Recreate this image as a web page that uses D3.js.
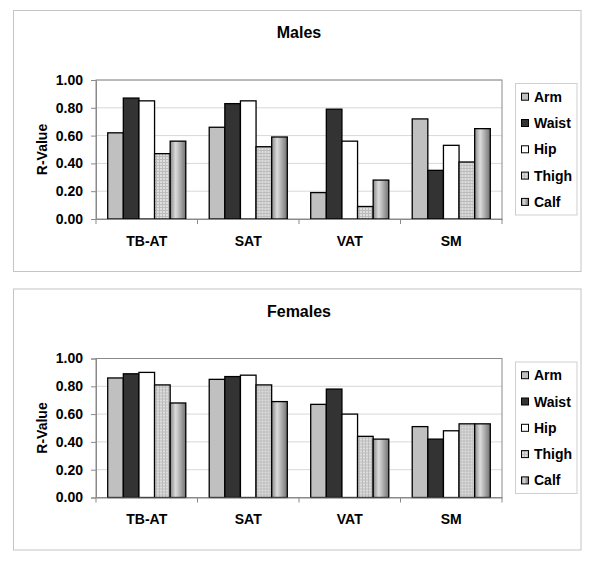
<!DOCTYPE html>
<html>
<head>
<meta charset="utf-8">
<script src="https://cdn.jsdelivr.net/npm/d3@7"></script>
<style>
  body { margin: 0; background: #fff; }
  text { font-family: Arial, "Liberation Sans", sans-serif; font-weight: bold; fill: #000; }
</style>
</head>
<body>
<div id="chart"></div>
<script>
const categories = ["TB-AT", "SAT", "VAT", "SM"];
const series = ["Arm", "Waist", "Hip", "Thigh", "Calf"];
const yTicks = [0, 0.2, 0.4, 0.6, 0.8, 1.0];

// values per category, in series order
const malesValues = [
    [0.62, 0.87, 0.85, 0.47, 0.56],
    [0.66, 0.83, 0.85, 0.52, 0.59],
    [0.19, 0.79, 0.56, 0.09, 0.28],
    [0.72, 0.35, 0.53, 0.41, 0.65]
];
const femalesValues = [
    [0.86, 0.89, 0.90, 0.81, 0.68],
    [0.85, 0.87, 0.88, 0.81, 0.69],
    [0.67, 0.78, 0.60, 0.44, 0.42],
    [0.51, 0.42, 0.48, 0.53, 0.53]
];

const panels = [
    { title: "Males", values: malesValues, dy: 0 },
    { title: "Females", values: femalesValues, dy: 278.5 }
];

const fills = {
    "Arm": "#c0c0c0",
    "Waist": "#333333",
    "Hip": "#ffffff",
    "Thigh": "url(#thighPat)",
    "Calf": "url(#calfGrad)"
};

const W = 600, H = 566;
const plot = { left: 96, right: 502, top: 80, bottom: 219 };

const svg = d3.select("#chart").append("svg")
    .attr("width", W)
    .attr("height", H);

const defs = svg.append("defs");
const pat = defs.append("pattern")
    .attr("id", "thighPat")
    .attr("patternUnits", "userSpaceOnUse")
    .attr("width", 3).attr("height", 3);
pat.append("rect").attr("width", 3).attr("height", 3).attr("fill", "#dedede");
pat.append("rect").attr("width", 3).attr("height", 1).attr("fill", "#bcbcbc");
pat.append("rect").attr("width", 1).attr("height", 3).attr("fill", "#bcbcbc");

const grad = defs.append("linearGradient")
    .attr("id", "calfGrad")
    .attr("x1", "0%").attr("x2", "100%").attr("y1", "0%").attr("y2", "0%");
grad.append("stop").attr("offset", "0%").attr("stop-color", "#8a8a8a");
grad.append("stop").attr("offset", "35%").attr("stop-color", "#dcdcdc");
grad.append("stop").attr("offset", "100%").attr("stop-color", "#727272");

const xScale = d3.scaleBand()
    .domain(categories)
    .range([plot.left, plot.right]);

const xInner = d3.scaleBand()
    .domain(series)
    .range([0, xScale.bandwidth()])
    .paddingInner(0)
    .paddingOuter(0.75);

const yScale = d3.scaleLinear()
    .domain([0, 1])
    .range([plot.bottom, plot.top]);

panels.forEach(p => {
    const g = svg.append("g").attr("transform", "translate(0," + p.dy + ")");

    // outer frame
    g.append("rect")
        .attr("x", 13.5).attr("y", 10.5)
        .attr("width", 567.5).attr("height", 261)
        .attr("fill", "none")
        .attr("stroke", "#c4c4c4");

    g.append("text")
        .attr("x", 299).attr("y", 38)
        .attr("text-anchor", "middle")
        .style("font-size", "16px")
        .text(p.title);

    // gridlines
    g.selectAll(".grid")
        .data(yTicks.slice(1))
        .join("line")
        .attr("x1", plot.left).attr("x2", plot.right)
        .attr("y1", d => yScale(d)).attr("y2", d => yScale(d))
        .attr("stroke", "#d8d8d8");

    // plot area border
    g.append("rect")
        .attr("x", plot.left).attr("y", plot.top)
        .attr("width", plot.right - plot.left)
        .attr("height", plot.bottom - plot.top)
        .attr("fill", "none")
        .attr("stroke", "#8a8a8a");

    // bars
    g.selectAll(".cat")
        .data(p.values)
        .join("g")
        .attr("transform", (d, i) => "translate(" + xScale(categories[i]) + ",0)")
        .selectAll("rect")
        .data(d => d.map((v, j) => ({ key: series[j], value: v })))
        .join("rect")
        .attr("x", d => xInner(d.key))
        .attr("width", xInner.bandwidth())
        .attr("y", d => yScale(d.value))
        .attr("height", d => yScale(0) - yScale(d.value))
        .attr("fill", d => fills[d.key])
        .attr("stroke", "#000")
        .attr("stroke-width", 1.3);

    // y axis
    const yAxis = d3.axisLeft(yScale)
        .tickValues(yTicks)
        .tickFormat(d3.format(".2f"))
        .tickSize(5)
        .tickPadding(8);
    const ya = g.append("g")
        .attr("transform", "translate(" + plot.left + ",0)")
        .call(yAxis);
    ya.select(".domain").attr("stroke", "#8a8a8a");
    ya.selectAll(".tick line").attr("stroke", "#8a8a8a");
    ya.selectAll("text").style("font-size", "14px").attr("fill", "#000");

    // x axis
    const xAxis = d3.axisBottom(xScale).tickSize(0).tickPadding(17);
    const xa = g.append("g")
        .attr("transform", "translate(0," + plot.bottom + ")")
        .call(xAxis);
    xa.select(".domain").attr("stroke", "#8a8a8a");
    xa.selectAll("text").style("font-size", "14px").attr("fill", "#000");
    xa.selectAll(".boundary")
        .data(categories.concat(["end"]))
        .join("line")
        .attr("x1", (d, i) => plot.left + i * xScale.step())
        .attr("x2", (d, i) => plot.left + i * xScale.step())
        .attr("y1", 0).attr("y2", 5)
        .attr("stroke", "#8a8a8a");

    g.append("text")
        .attr("transform", "translate(47," + ((plot.top + plot.bottom) / 2) + ") rotate(-90)")
        .attr("text-anchor", "middle")
        .style("font-size", "14px")
        .text("R-Value");

    // legend
    g.append("rect")
        .attr("x", 515.5).attr("y", 83.5)
        .attr("width", 61.5).attr("height", 131.5)
        .attr("fill", "#fff")
        .attr("stroke", "#cfcfcf");

    const legend = g.selectAll(".legend")
        .data(series)
        .join("g")
        .attr("transform", (d, i) => "translate(521," + (96.7 + i * 26.3) + ")");
    legend.append("rect")
        .attr("x", 0.5).attr("y", -3.5)
        .attr("width", 7).attr("height", 7)
        .attr("fill", d => fills[d])
        .attr("stroke", "#000");
    legend.append("text")
        .attr("x", 13)
        .attr("dy", "0.36em")
        .style("font-size", "14px")
        .text(d => d);
});
</script>
</body>
</html>
